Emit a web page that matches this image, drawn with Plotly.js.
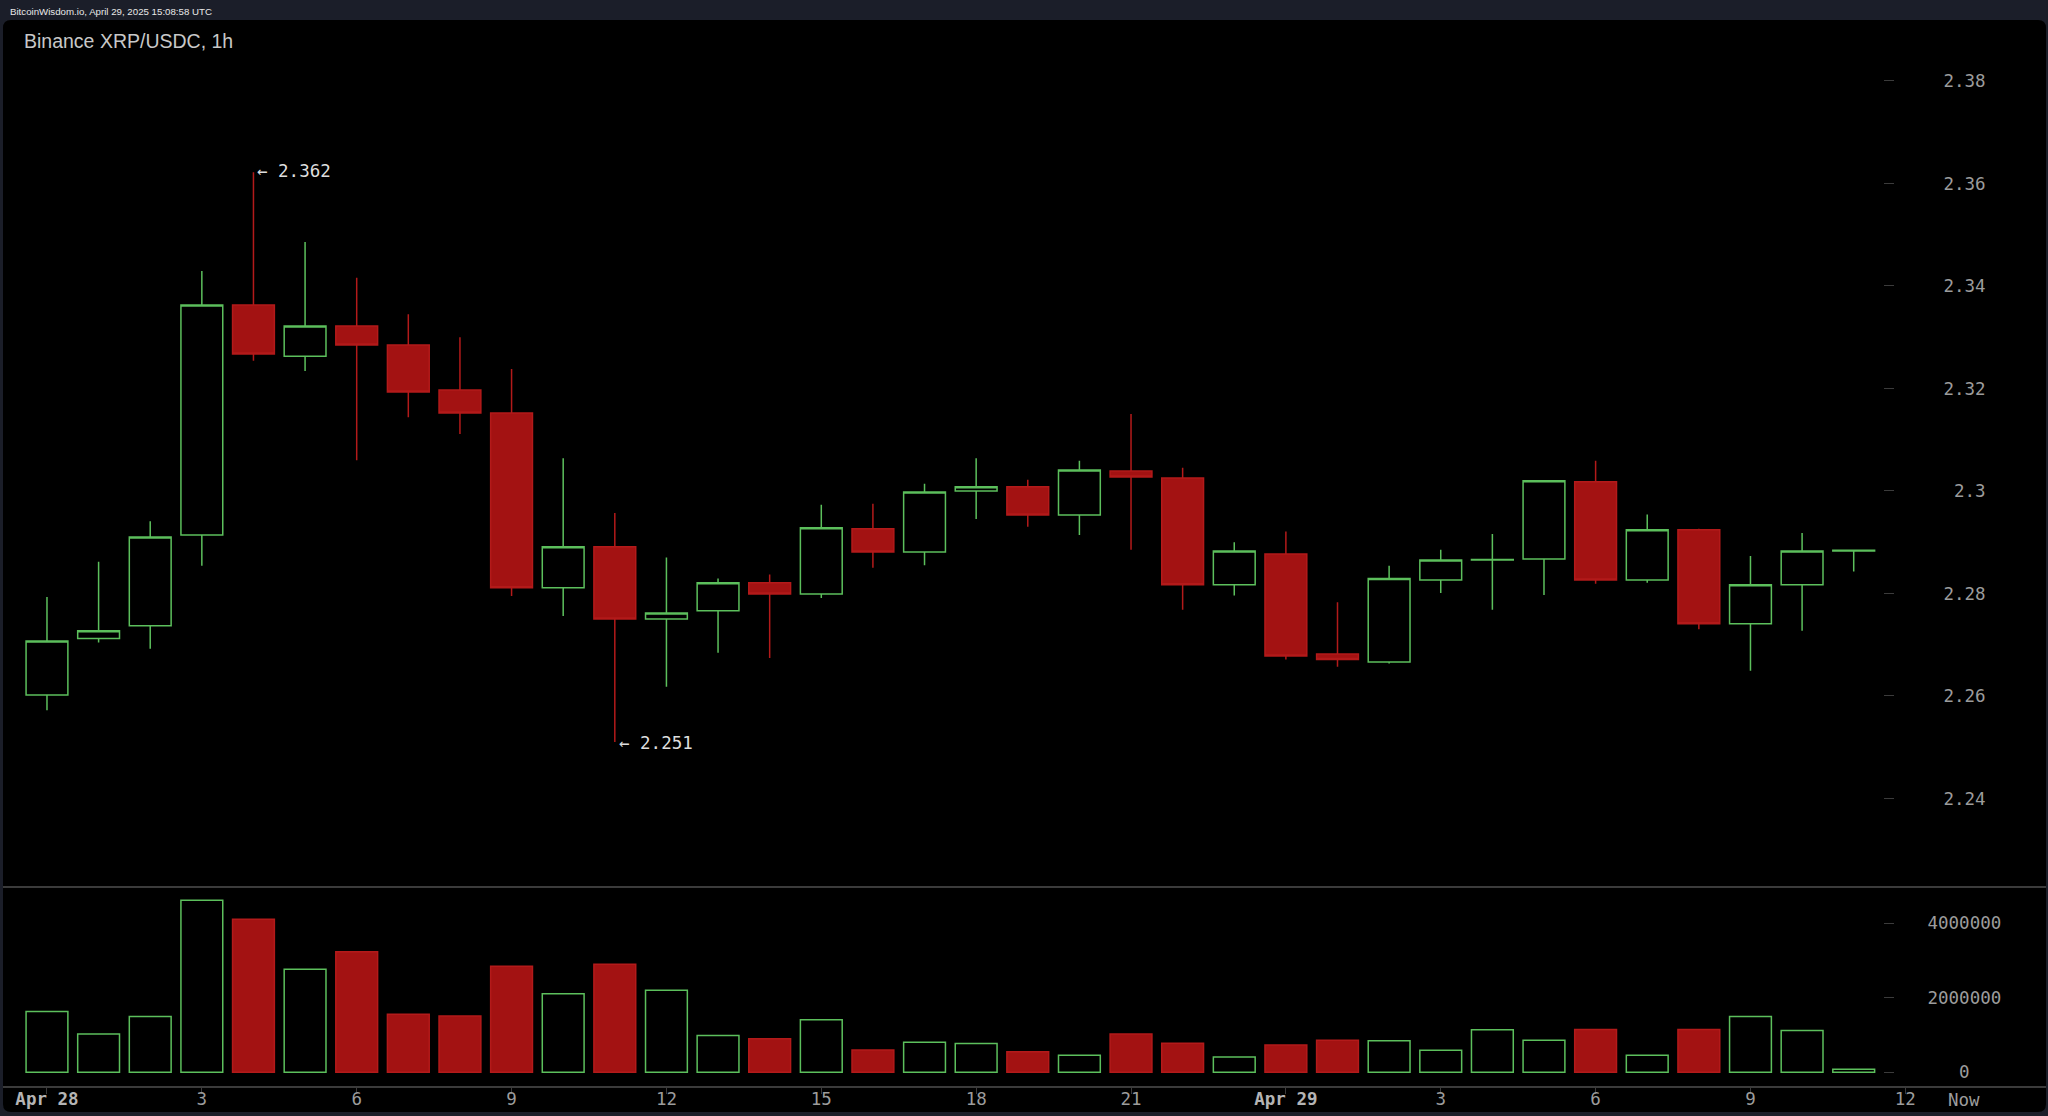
<!DOCTYPE html>
<html>
<head>
<meta charset="utf-8">
<script src="https://cdn.plot.ly/plotly-3.0.1.min.js"></script>
<style>
html,body{margin:0;padding:0;background:#1b1e29;overflow:hidden;}
#chart{width:2048px;height:1116px;}
</style>
</head>
<body>
<div id="chart"></div>
<script>
// ---- data (hourly candles, Binance XRP/USDC) ----
const times = [
  "2025-04-28 00:00","2025-04-28 01:00","2025-04-28 02:00","2025-04-28 03:00",
  "2025-04-28 04:00","2025-04-28 05:00","2025-04-28 06:00","2025-04-28 07:00",
  "2025-04-28 08:00","2025-04-28 09:00","2025-04-28 10:00","2025-04-28 11:00",
  "2025-04-28 12:00","2025-04-28 13:00","2025-04-28 14:00","2025-04-28 15:00",
  "2025-04-28 16:00","2025-04-28 17:00","2025-04-28 18:00","2025-04-28 19:00",
  "2025-04-28 20:00","2025-04-28 21:00","2025-04-28 22:00","2025-04-28 23:00",
  "2025-04-29 00:00","2025-04-29 01:00","2025-04-29 02:00","2025-04-29 03:00",
  "2025-04-29 04:00","2025-04-29 05:00","2025-04-29 06:00","2025-04-29 07:00",
  "2025-04-29 08:00","2025-04-29 09:00","2025-04-29 10:00","2025-04-29 11:00"
];
const openP = [2.2602,2.2712,2.2737,2.2914,2.3363,2.3263,2.3322,2.3285,2.3197,2.3152,2.2811,2.2891,
               2.2750,2.2766,2.2821,2.2799,2.2926,2.2881,2.3000,2.3008,2.2953,2.3039,2.3025,2.2817,
               2.2877,2.2682,2.2666,2.2826,2.2865,2.2867,2.3018,2.2826,2.2924,2.2741,2.2817,2.2883];
const highP = [2.2793,2.2862,2.2941,2.3429,2.3622,2.3486,2.3416,2.3345,2.3300,2.3238,2.3064,2.2957,
               2.2870,2.2829,2.2837,2.2973,2.2975,2.3014,2.3064,2.3022,2.3059,2.3150,2.3045,2.2900,
               2.2921,2.2783,2.2854,2.2885,2.2916,2.3020,2.3059,2.2954,2.2926,2.2873,2.2918,2.2885];
const lowP  = [2.2572,2.2704,2.2692,2.2854,2.3254,2.3234,2.3060,2.3144,2.3111,2.2795,2.2756,2.2510,
               2.2618,2.2684,2.2674,2.2791,2.2850,2.2855,2.2945,2.2930,2.2914,2.2885,2.2768,2.2796,
               2.2671,2.2657,2.2663,2.2801,2.2768,2.2797,2.2819,2.2821,2.2730,2.2649,2.2727,2.2843];
const closeP = [2.2707,2.2727,2.2910,2.3363,2.3267,2.3322,2.3285,2.3193,2.3152,2.2811,2.2891,2.2750,
                2.2762,2.2821,2.2799,2.2928,2.2881,2.2998,2.3008,2.2953,2.3041,2.3027,2.2817,2.2883,
                2.2678,2.2671,2.2829,2.2865,2.2866,2.3020,2.2826,2.2924,2.2741,2.2817,2.2883,2.2884];
const volume = [1630000,1030000,1500000,4620000,4110000,2770000,3240000,1560000,1510000,2850000,2110000,2900000,
                2200000,990000,900000,1410000,600000,810000,770000,550000,460000,1030000,780000,410000,
                730000,860000,850000,590000,1140000,860000,1150000,460000,1150000,1500000,1120000,80000];

const xTickVals = ["2025-04-28 00:00","2025-04-28 03:00","2025-04-28 06:00","2025-04-28 09:00",
                   "2025-04-28 12:00","2025-04-28 15:00","2025-04-28 18:00","2025-04-28 21:00",
                   "2025-04-29 00:00","2025-04-29 03:00","2025-04-29 06:00","2025-04-29 09:00",
                   "2025-04-29 12:00"];
const xTickLabels = ["Apr 28","3","6","9","12","15","18","21","Apr 29","3","6","9","12"];
const priceTickVals = [2.24,2.26,2.28,2.30,2.32,2.34,2.36,2.38];
const priceTickLabels = ["2.24","2.26","2.28","2.3","2.32","2.34","2.36","2.38"];
const volTickVals = [0,2000000,4000000];
const volTickLabels = ["0","2000000","4000000"];

// ---- styles ----
const GREEN = "#5cbf5c";
const RED_LINE = "#b31a1a";
const RED_FILL = "#a31212";
const MONO = "DejaVu Sans Mono, monospace";
const TICK_COL = "#9c9c9c";

// pad narrow labels so they sit centred in the label column (monospace)
function centreLabel(s, width) {
  const diff = width - s.length;
  if (diff <= 0) return s;
  let pad = "";
  for (let k = 0; k < Math.floor(diff / 2); k++) pad += "\u2007";
  if (diff % 2 === 1) pad += "\u2004";
  return pad + s;
}

const up = closeP.map((c, i) => c >= openP[i]);

const candle = {
  type: "candlestick",
  x: times, open: openP, high: highP, low: lowP, close: closeP,
  xaxis: "x", yaxis: "y",
  increasing: {line: {color: GREEN, width: 1.5}, fillcolor: "rgba(0,0,0,0)"},
  decreasing: {line: {color: RED_LINE, width: 1.5}, fillcolor: RED_FILL},
  whiskerwidth: 0,
  hoverinfo: "skip",
  showlegend: false
};

const vol = {
  type: "bar",
  x: times, y: volume,
  xaxis: "x2", yaxis: "y2",
  width: 0.81 * 3600000,
  marker: {
    color: up.map(u => u ? "rgba(0,0,0,0)" : RED_FILL),
    line: {color: up.map(u => u ? GREEN : RED_LINE), width: 1.5}
  },
  hoverinfo: "skip",
  showlegend: false
};

// extreme annotations
let hiIdx = 0, loIdx = 0;
highP.forEach((v, i) => { if (v > highP[hiIdx]) hiIdx = i; });
lowP.forEach((v, i) => { if (v < lowP[loIdx]) loIdx = i; });

const X_RANGE = ["2025-04-27 23:08:53", "2025-04-29 14:43:30"];
const splitFrac = 0.1876;

// rounded black panel
const rx = 8 / 2043, ry = 8 / 1066, yb = -0.0244;
const panelPath = `M 0,${yb + ry} L 0,${1 - ry} Q 0,1 ${rx},1 L ${1 - rx},1 Q 1,1 1,${1 - ry} ` +
                  `L 1,${yb + ry} Q 1,${yb} ${1 - rx},${yb} L ${rx},${yb} Q 0,${yb} 0,${yb + ry} Z`;

const layout = {
  width: 2048, height: 1116,
  margin: {l: 3, r: 2, t: 20, b: 30, pad: 0},
  paper_bgcolor: "#1b1e29",
  plot_bgcolor: "rgba(0,0,0,0)",
  boxgap: 0.19, boxgroupgap: 0,
  showlegend: false,
  dragmode: false,
  title: {
    text: "Binance XRP/USDC, 1h",
    font: {family: "Liberation Sans, Arial, sans-serif", size: 19.5, color: "#c8c8c8"},
    xref: "container", yref: "container", x: 24 / 2048, xanchor: "left",
    y: 1 - 41 / 1116, yanchor: "middle"
  },
  xaxis: {
    type: "date", domain: [0, 1], range: X_RANGE, anchor: "y",
    showticklabels: false, ticks: "", showgrid: false, zeroline: false,
    showline: true, linecolor: "#3b3b3b", linewidth: 1.5,
    rangeslider: {visible: false}, fixedrange: true
  },
  xaxis2: {
    type: "date", domain: [0, 1], range: X_RANGE, anchor: "y2",
    tickmode: "array", tickvals: xTickVals,
    ticktext: xTickLabels.map(t => t.startsWith("Apr")
      ? `<b><span style="color:#b4b4b4">${t}</span></b>` : t),
    ticks: "outside", ticklen: 6, tickwidth: 1, tickcolor: "#3b3b3b",
    ticklabelstandoff: -10,
    tickfont: {family: MONO, size: 17.5, color: TICK_COL},
    showgrid: false, zeroline: false,
    showline: true, linecolor: "#3b3b3b", linewidth: 1.5, fixedrange: true
  },
  yaxis: {
    domain: [splitFrac, 1], range: [2.2229, 2.3919],
    anchor: "free", position: 1880 / 2043, side: "right",
    tickmode: "array", tickvals: priceTickVals,
    ticktext: priceTickLabels.map(t => centreLabel(t, 4)),
    ticks: "outside", ticklen: 10, tickwidth: 1, tickcolor: "#3b3b3b",
    ticklabelstandoff: 46,
    tickfont: {family: MONO, size: 17.5, color: TICK_COL},
    showgrid: false, zeroline: false, showline: false, fixedrange: true
  },
  yaxis3: {
    overlaying: "y", anchor: "x", side: "right", range: [2.2229, 2.3919],
    tickmode: "array", tickvals: priceTickVals, showticklabels: false,
    ticks: "inside", ticklen: 10, tickwidth: 1, tickcolor: "#3b3b3b",
    showgrid: false, zeroline: false, showline: false, fixedrange: true
  },
  yaxis2: {
    domain: [0, splitFrac], range: [-367800, 5001400],
    anchor: "free", position: 1880 / 2043, side: "right",
    tickmode: "array", tickvals: volTickVals,
    ticktext: volTickLabels.map(t => centreLabel(t, 7)),
    ticks: "outside", ticklen: 10, tickwidth: 1, tickcolor: "#3b3b3b",
    ticklabelstandoff: 30,
    tickfont: {family: MONO, size: 17.5, color: TICK_COL},
    showgrid: false, zeroline: false, showline: false, fixedrange: true
  },
  yaxis4: {
    overlaying: "y2", anchor: "x2", side: "right", range: [-367800, 5001400],
    tickmode: "array", tickvals: volTickVals, showticklabels: false,
    ticks: "inside", ticklen: 10, tickwidth: 1, tickcolor: "#3b3b3b",
    showgrid: false, zeroline: false, showline: false, fixedrange: true
  },
  shapes: [{
    type: "path", xref: "paper", yref: "paper", path: panelPath,
    fillcolor: "#000000", line: {width: 0}, layer: "below"
  }],
  annotations: [
    {
      text: "BitcoinWisdom.io, April 29, 2025 15:08:58 UTC",
      xref: "paper", yref: "paper", x: 5 / 2043, y: 1 + 9 / 1066,
      xanchor: "left", yanchor: "middle", showarrow: false,
      font: {family: "Liberation Sans, Arial, sans-serif", size: 9.7, color: "#e8e8e8"}
    },
    {
      text: "\u2190 " + highP[hiIdx].toFixed(3),
      xref: "x", yref: "y", x: times[hiIdx], y: highP[hiIdx],
      xanchor: "left", yanchor: "middle", xshift: 2, yshift: 1, showarrow: false,
      font: {family: MONO, size: 17.5, color: "#dedede"}
    },
    {
      text: "\u2190 " + lowP[loIdx].toFixed(3),
      xref: "x", yref: "y", x: times[loIdx], y: lowP[loIdx],
      xanchor: "left", yanchor: "middle", xshift: 2, yshift: -1, showarrow: false,
      font: {family: MONO, size: 17.5, color: "#dedede"}
    },
    {
      text: "Now",
      xref: "paper", yref: "paper", x: 1961 / 2043, y: -14 / 1066,
      xanchor: "center", yanchor: "middle", showarrow: false,
      font: {family: MONO, size: 17.5, color: TICK_COL}
    }
  ]
};

Plotly.newPlot("chart", [candle, vol], layout, {displayModeBar: false, staticPlot: true});
</script>
</body>
</html>
